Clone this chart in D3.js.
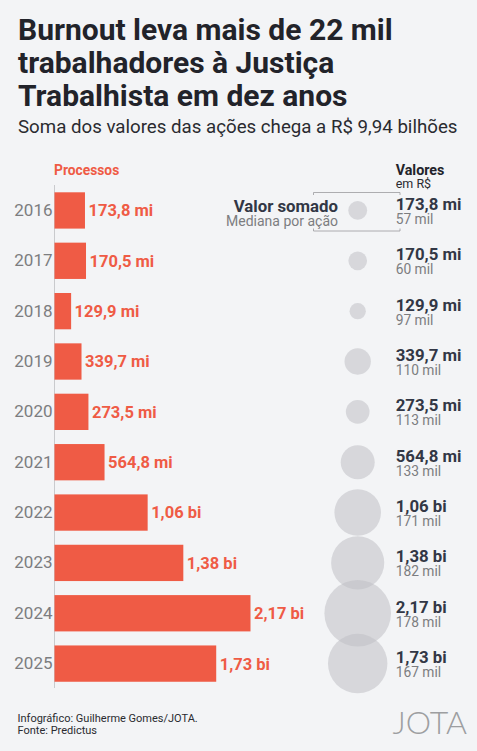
<!DOCTYPE html>
<html><head><meta charset="utf-8">
<script src="https://cdn.jsdelivr.net/npm/d3@7"></script>
<style>
html,body{margin:0;padding:0;background:#f3f4f6;}
svg{display:block;font-family:Roboto,"Noto Sans",sans-serif;}
</style></head>
<body>
<svg id="c" width="477" height="751"></svg>
<script>
const years = ["2016","2017","2018","2019","2020","2021","2022","2023","2024","2025"];
const processos = [880, 910, 480, 780, 980, 1445, 2690, 3720, 5660, 4670];
const valorSomado = [173.8, 170.5, 129.9, 339.7, 273.5, 564.8, 1060, 1380, 2170, 1730];
const valorLabels = ["173,8 mi","170,5 mi","129,9 mi","339,7 mi","273,5 mi","564,8 mi","1,06 bi","1,38 bi","2,17 bi","1,73 bi"];
const medianaLabels = ["57 mil","60 mil","97 mil","110 mil","113 mil","133 mil","171 mil","182 mil","178 mil","167 mil"];

const svg = d3.select("#c");
const RED = "#ef5b45", DARK = "#22232a", NAVY = "#323745", GREY = "#7c7d80";

// Title
const title = ["Burnout leva mais de 22 mil","trabalhadores à Justiça","Trabalhista em dez anos"];
svg.append("g").selectAll("text").data(title).join("text")
  .attr("x", 18).attr("y", (d,i) => 40 + i*33)
  .attr("font-size", 30).attr("font-weight", 700).attr("fill", DARK)
  .text(d => d);
svg.append("text").attr("x", 18).attr("y", 133)
  .attr("font-size", 18.7).attr("fill", "#2a2b30")
  .text("Soma dos valores das ações chega a R$ 9,94 bilhões");

// Scales
const y = d3.scaleBand().domain(years).range([178.25, 695.8]).padding(0.279);
const x0 = 54.5;
const x = d3.scaleLinear().domain([0, d3.max(processos)]).range([0, 196]);
const r = d3.scaleSqrt().domain([0, d3.max(valorSomado)]).range([0, 33.3]);
const cx = 357.7, vx = 395.7;

const data = years.map((yr,i) => ({yr, p: processos[i], v: valorSomado[i], vl: valorLabels[i], m: medianaLabels[i]}));

// Processos header
svg.append("text").attr("x", 54).attr("y", 175)
  .attr("font-size", 13.8).attr("font-weight", 700).attr("fill", RED).text("Processos");

// axis line
svg.append("line").attr("x1", x0).attr("x2", x0).attr("y1", 185).attr("y2", 688)
  .attr("stroke", "#c9cacd").attr("stroke-width", 1);

// Year axis
const yAxis = d3.axisLeft(y).tickSize(0).tickPadding(2);
const ga = svg.append("g").attr("transform", `translate(${x0},0)`).call(yAxis);
ga.select(".domain").remove();
ga.selectAll("text").attr("font-size", 17).attr("fill", GREY).attr("font-family", "Roboto");

// Bars
svg.append("g").selectAll("rect").data(data).join("rect")
  .attr("x", x0).attr("y", d => y(d.yr))
  .attr("width", d => x(d.p)).attr("height", y.bandwidth())
  .attr("fill", RED);
svg.append("g").selectAll("text").data(data).join("text")
  .attr("x", d => x0 + x(d.p) + 3.5).attr("y", d => y(d.yr) + y.bandwidth()/2)
  .attr("dy", "0.36em")
  .attr("font-size", 16.5).attr("font-weight", 700).attr("fill", RED)
  .text(d => d.vl);

// Circles
svg.append("g").selectAll("circle").data(data).join("circle")
  .attr("cx", cx).attr("cy", d => y(d.yr) + y.bandwidth()/2)
  .attr("r", d => r(d.v))
  .attr("fill", "#bfc0c4").attr("fill-opacity", 0.55);

// Right labels
svg.append("text").attr("x", vx).attr("y", 175)
  .attr("font-size", 14.3).attr("font-weight", 700).attr("fill", DARK).text("Valores");
svg.append("text").attr("x", vx).attr("y", 187.5)
  .attr("font-size", 12.5).attr("fill", "#2a2b30").text("em R$");

svg.append("g").selectAll("text").data(data).join("text")
  .attr("x", vx).attr("y", d => y(d.yr) + y.bandwidth()/2 - 0.5)
  .attr("font-size", 16.8).attr("font-weight", 700).attr("fill", NAVY)
  .text(d => d.vl);
svg.append("g").selectAll("text").data(data).join("text")
  .attr("x", vx).attr("y", d => y(d.yr) + y.bandwidth()/2 + 13.5)
  .attr("font-size", 13.8).attr("fill", GREY)
  .text(d => d.m);

// Legend annotation
svg.append("text").attr("x", 338).attr("y", 212).attr("text-anchor", "end")
  .attr("font-size", 16.8).attr("font-weight", 700).attr("fill", NAVY).text("Valor somado");
svg.append("text").attr("x", 338).attr("y", 225.5).attr("text-anchor", "end")
  .attr("font-size", 14).attr("fill", GREY).text("Mediana por ação");
const br = svg.append("g").attr("fill", "none").attr("stroke", "#9a9b9e").attr("stroke-width", 0.8);
br.append("path").attr("d", "M313.5,195 V192.5 H400 V195");
br.append("path").attr("d", "M313.5,228.5 V231 H400 V228.5");

// Footer
svg.append("text").attr("x", 17.5).attr("y", 721.5).attr("font-size", 11).attr("fill", "#2a2b30")
  .text("Infográfico: Guilherme Gomes/JOTA.");
svg.append("text").attr("x", 17.5).attr("y", 734).attr("font-size", 11).attr("fill", "#2a2b30")
  .text("Fonte: Predictus");
svg.append("text").attr("x", 467).attr("y", 734).attr("text-anchor", "end")
  .attr("font-family", "Lato, 'DejaVu Sans'").attr("font-weight", 300)
  .attr("font-size", 32).attr("fill", "#9d9ea1").text("JOTA");
</script>
</body></html>
